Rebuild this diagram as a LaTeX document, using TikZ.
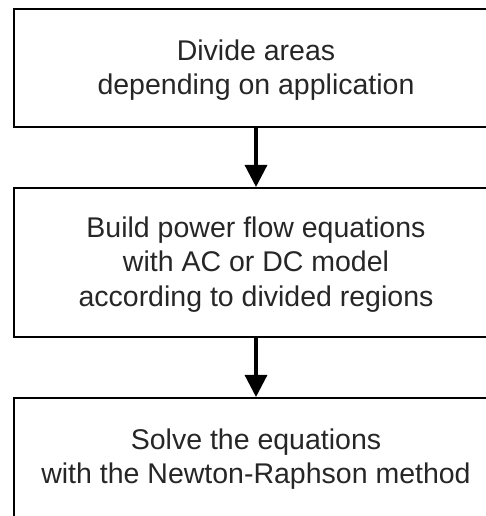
\documentclass[tikz,border=0pt]{standalone}
\usepackage{fontspec}
\setmainfont{Liberation Sans}
\usetikzlibrary{arrows.meta}
\begin{document}
\begin{tikzpicture}[x=1pt,y=1pt,
  box/.style={draw=black,line width=2pt,rectangle,inner sep=0pt},
  txt/.style={align=center,font=\fontsize{28.5}{34.5}\selectfont,inner sep=0pt,text=black!85},
  flow/.style={line width=3.2pt,-{Triangle[width=22pt,length=22pt]}}]
\useasboundingbox (0,0) rectangle (486,516);
\begin{scope}
\clip (0,0) rectangle (486,516);
\node[box,minimum width=484pt,minimum height=118pt] (b1) at (256,448) {};
\node[box,minimum width=484pt,minimum height=149pt] (b2) at (256,253.5) {};
\node[box,minimum width=484pt,minimum height=122pt] (b3) at (256,57) {};
\node[txt] (t1) at ([yshift=-2pt]b1.center) {Divide areas\\depending on application};
\node[txt] (t2) at ([yshift=-2pt]b2.center) {Build power flow equations\\with AC or DC model\\according to divided regions};
\node[txt] (t3) at ([yshift=0pt]b3.center) {Solve the equations\\with the Newton-Raphson method};
\draw[flow] (b1.south) -- (b2.north);
\draw[flow] (b2.south) -- (b3.north);
\end{scope}
\end{tikzpicture}
\end{document}
